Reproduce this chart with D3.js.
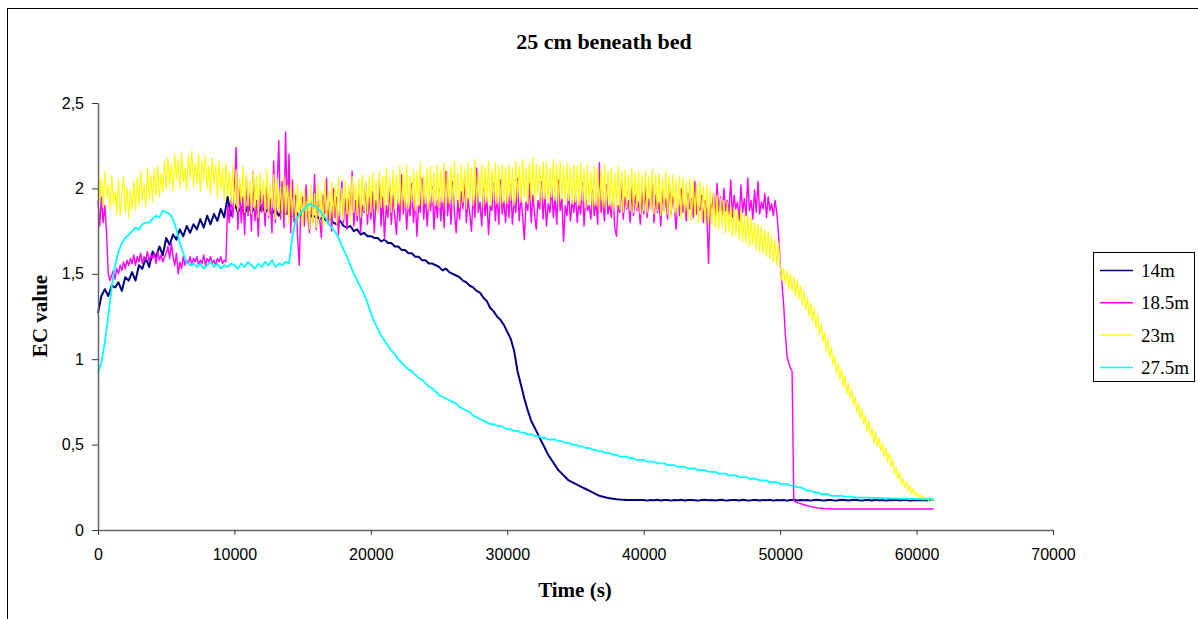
<!DOCTYPE html>
<html>
<head>
<meta charset="utf-8">
<script src="https://cdn.jsdelivr.net/npm/d3@7"></script>
<style>
  body { margin: 0; background: #fff; }
  svg { display: block; }
</style>
</head>
<body>
<script>
// sampling of the logger: the noisy probes are read every 125 s, the smooth ones every 250 s
const times250 = d3.range(0, 61251, 250);
const times125 = d3.range(0, 61251, 125);

const seriesNames = ["14m", "18.5m", "23m", "27.5m"];
const seriesColors = ["#000080", "#ff00ff", "#ffff00", "#00ffff"];

const xTicks = [0, 10000, 20000, 30000, 40000, 50000, 60000, 70000];
const yTicks = [0, 0.5, 1, 1.5, 2, 2.5];

// 14m, every 250 s
const ec14 = [
  1.27, 1.37, 1.41, 1.37, 1.43, 1.42, 1.45, 1.4, 1.48, 1.46, 1.51, 1.46, 1.55, 1.53, 1.59, 1.54, 1.63, 1.6, 1.66, 1.61,
  1.71, 1.67, 1.73, 1.7, 1.76, 1.72, 1.78, 1.74, 1.79, 1.76, 1.82, 1.77, 1.84, 1.79, 1.85, 1.81, 1.88, 1.83, 1.95, 1.84,
  1.91, 1.86, 1.89, 1.85, 1.9, 1.86, 1.89, 1.85, 1.9, 1.86, 1.88, 1.85, 1.88, 1.84, 1.87, 1.85, 1.87, 1.84, 1.86, 1.84,
  1.85, 1.84, 1.86, 1.83, 1.84, 1.82, 1.83, 1.81, 1.82, 1.8, 1.79, 1.81, 1.78, 1.77, 1.78, 1.75, 1.76, 1.73, 1.74, 1.72,
  1.72, 1.71, 1.71, 1.69, 1.7, 1.68, 1.68, 1.66, 1.66, 1.64, 1.64, 1.62, 1.62, 1.6, 1.6, 1.58, 1.58, 1.56, 1.56, 1.55,
  1.54, 1.52, 1.53, 1.51, 1.5, 1.49, 1.48, 1.46, 1.45, 1.43, 1.42, 1.4, 1.39, 1.36, 1.34, 1.3, 1.28, 1.25, 1.23, 1.2,
  1.16, 1.12, 1.05, 0.93, 0.85, 0.77, 0.7, 0.64, 0.6, 0.56, 0.52, 0.48, 0.44, 0.41, 0.38, 0.35, 0.33, 0.31, 0.29, 0.28,
  0.27, 0.26, 0.25, 0.24, 0.23, 0.22, 0.21, 0.2, 0.195, 0.19, 0.186, 0.183, 0.18, 0.178, 0.177, 0.176, 0.176, 0.175, 0.175, 0.175,
  0.175, 0.172, 0.176, 0.174, 0.177, 0.173, 0.175, 0.176, 0.172, 0.175, 0.174, 0.177, 0.173, 0.175, 0.176, 0.174, 0.172, 0.175, 0.177, 0.174,
  0.176, 0.173, 0.175, 0.177, 0.172, 0.174, 0.176, 0.175, 0.173, 0.177, 0.174, 0.172, 0.176, 0.175, 0.173, 0.176, 0.174, 0.177, 0.172, 0.175,
  0.174, 0.176, 0.172, 0.175, 0.177, 0.173, 0.175, 0.174, 0.176, 0.172, 0.175, 0.177, 0.174, 0.173, 0.176, 0.175, 0.172, 0.174, 0.177, 0.175,
  0.173, 0.175, 0.177, 0.174, 0.172, 0.176, 0.175, 0.173, 0.177, 0.174, 0.176, 0.172, 0.175, 0.174, 0.177, 0.173, 0.176, 0.175, 0.172, 0.174,
  0.176, 0.174, 0.175, 0.173, 0.176, 0.175
];

// 18.5m, every 125 s
const ec185 = [
  1.93, 1.78, 1.95, 1.8, 1.9, 1.74, 1.5, 1.46, 1.49, 1.52, 1.47, 1.53, 1.5, 1.55, 1.52, 1.57, 1.53, 1.58, 1.55, 1.59, 1.56, 1.61, 1.55, 1.6, 1.57, 1.62, 1.56, 1.6, 1.58, 1.63, 1.57, 1.61, 1.59, 1.62, 1.56, 1.63, 1.58, 1.61, 1.57, 1.6,
  1.62, 1.66, 1.59, 1.68, 1.6, 1.55, 1.62, 1.5, 1.57, 1.53, 1.6, 1.55, 1.58, 1.56, 1.6, 1.55, 1.59, 1.57, 1.6, 1.55, 1.58, 1.56, 1.61, 1.55, 1.59, 1.57, 1.6, 1.56, 1.58, 1.55, 1.59, 1.57, 1.6, 1.56, 1.58, 1.57, 1.9, 1.8, 1.95, 1.83,
  1.98, 2.24, 1.76, 2.02, 1.8, 1.95, 1.73, 2.06, 1.84, 1.97, 1.75, 2.1, 1.81, 1.93, 1.72, 2.0, 1.86, 1.96, 1.78, 2.05, 1.83, 1.94, 1.74, 2.16, 1.8, 1.98, 2.28, 1.82, 2.04, 1.77, 2.33, 1.85, 2.2, 1.74, 2.05, 1.8, 1.96, 1.72, 1.55, 1.9,
  1.95, 1.78, 2.02, 1.84, 1.74, 1.93, 1.8, 2.08, 1.76, 1.97, 1.82, 1.71, 1.96, 1.85, 2.06, 1.79, 1.92, 1.75, 2.0, 1.83, 1.95, 1.73, 1.89, 2.04, 1.8, 1.94, 1.76, 1.98, 1.84, 2.1, 1.78, 1.93, 1.81, 1.97, 1.74, 1.9, 1.86, 2.03, 1.79, 1.95,
  1.82, 1.98, 1.74, 1.93, 1.86, 2.05, 1.78, 1.95, 1.7, 1.9, 1.83, 2.02, 1.79, 1.96, 1.84, 1.73, 1.94, 1.81, 2.08, 1.85, 1.97, 1.76, 1.92, 1.84, 2.03, 1.8, 1.95, 1.72, 1.91, 1.86, 2.06, 1.82, 1.97, 1.78, 1.93, 1.87, 2.01, 1.76, 1.94, 1.83,
  2.0, 1.81, 1.95, 1.77, 2.1, 1.84, 1.96, 1.79, 2.04, 1.86, 1.74, 1.93, 1.82, 1.98, 1.88, 2.07, 1.8, 1.94, 1.85, 1.75, 1.97, 1.83, 2.12, 1.86, 1.92, 1.78, 2.0, 1.84, 1.95, 1.73, 1.9, 1.87, 2.03, 1.81, 1.96, 1.79, 2.05, 1.85, 1.93, 1.8,
  1.97, 1.83, 2.02, 1.79, 1.94, 1.86, 2.06, 1.81, 1.95, 1.84, 1.7, 1.92, 1.87, 2.03, 1.8, 1.96, 1.85, 1.76, 1.93, 1.88, 2.04, 1.82, 1.97, 1.78, 1.91, 1.86, 2.01, 1.83, 1.95, 1.79, 2.05, 1.87, 1.94, 1.69, 1.9, 1.84, 1.98, 1.81, 1.93, 1.86,
  1.96, 1.8, 1.92, 1.85, 2.03, 1.78, 1.95, 1.87, 1.9, 1.82, 1.99, 1.84, 1.93, 1.79, 2.15, 1.86, 1.94, 1.81, 2.02, 1.85, 1.91, 1.83, 1.97, 1.77, 1.72, 1.9, 1.86, 2.04, 1.82, 1.95, 1.88, 1.93, 1.8, 2.0, 1.84, 1.96, 1.87, 1.92, 1.79, 1.98,
  1.85, 2.01, 1.83, 1.94, 1.88, 2.05, 1.8, 1.96, 1.86, 1.92, 1.78, 1.99, 1.87, 1.94, 1.82, 2.03, 1.85, 1.95, 1.89, 1.76, 1.93, 1.84, 2.0, 1.86, 1.92, 1.81, 1.97, 1.88, 1.94, 1.83, 2.04, 1.85, 1.9, 1.87, 1.96, 1.8, 1.93, 1.86, 1.56, 1.92,
  1.88, 1.97, 1.84, 2.03, 1.86, 1.95, 1.82, 2.0, 1.87, 1.93, 1.85, 2.05, 1.83, 1.96, 1.88, 1.92, 1.81, 2.02, 1.86, 1.94, 1.84, 2.06, 1.87, 1.93, 1.82, 1.99, 1.86, 2.04, 1.85, 1.92, 1.88, 1.97, 1.83, 1.95, 1.87, 1.91, 1.84, 1.93, 1.86, 1.74,
  1.56, 1.45, 1.33, 1.15, 1.02, 0.98, 0.95, 0.93, 0.17, 0.165, 0.16, 0.157, 0.154, 0.151, 0.148, 0.145, 0.142, 0.14, 0.137, 0.135, 0.133, 0.131, 0.129, 0.128, 0.127, 0.126, 0.125, 0.125, 0.124, 0.124, 0.123, 0.123, 0.123, 0.123, 0.123, 0.123, 0.123, 0.123, 0.123, 0.123,
  0.123, 0.123, 0.123, 0.123, 0.123, 0.123, 0.123, 0.123, 0.123, 0.123, 0.123, 0.123, 0.123, 0.123, 0.123, 0.123, 0.123, 0.123, 0.123, 0.123, 0.123, 0.123, 0.123, 0.123, 0.123, 0.123, 0.123, 0.123, 0.123, 0.123, 0.123, 0.123, 0.123, 0.123, 0.123, 0.123, 0.123, 0.123, 0.123, 0.123,
  0.123, 0.123, 0.123, 0.123, 0.123, 0.123, 0.123, 0.123, 0.123, 0.123, 0.123
];

// 23m, every 125 s
const ec23 = [
  2.14, 1.92, 2.06, 1.89, 2.1, 1.95, 2.02, 1.88, 2.08, 1.91, 1.98, 1.85, 2.05, 1.84, 1.96, 2.07, 1.86, 2.01, 1.83, 1.99, 1.88, 2.04, 1.87, 2.06, 1.9, 2.1, 1.93, 2.03, 1.89, 2.12, 1.94, 2.08, 1.92, 2.11, 1.96, 2.13, 1.95, 2.09, 1.98, 2.16,
  2.0, 2.18, 2.02, 2.14, 1.98, 2.2, 2.05, 2.17, 2.0, 2.21, 2.04, 2.12, 1.99, 2.19, 2.06, 2.22, 2.01, 2.15, 2.03, 2.2, 1.98, 2.16, 2.05, 2.19, 2.0, 2.13, 1.97, 2.18, 2.02, 2.14, 1.95, 2.16, 1.99, 2.12, 1.93, 2.15, 1.96, 2.1, 1.91, 2.13,
  1.89, 2.11, 1.87, 2.06, 1.92, 2.13, 1.86, 2.08, 1.9, 2.04, 1.85, 2.1, 1.88, 2.07, 1.83, 2.09, 1.91, 2.05, 1.86, 2.11, 1.84, 2.03, 1.89, 2.08, 1.82, 2.06, 1.87, 2.01, 1.83, 2.07, 1.85, 2.02, 1.8, 2.04, 1.84, 1.99, 1.79, 2.03, 1.82, 1.98,
  1.78, 2.0, 1.8, 1.96, 1.76, 2.02, 1.79, 1.97, 1.77, 2.03, 1.82, 1.98, 1.78, 2.05, 1.81, 1.99, 1.8, 2.04, 1.83, 2.01, 1.79, 2.06, 1.84, 2.0, 1.82, 2.05, 1.85, 2.02, 1.81, 2.07, 1.86, 2.03, 1.84, 2.06, 1.83, 2.08, 1.87, 2.04, 1.85, 2.07,
  1.86, 2.09, 1.88, 2.05, 1.85, 2.1, 1.89, 2.07, 1.87, 2.12, 1.9, 2.06, 1.86, 2.11, 1.88, 2.08, 1.91, 2.13, 1.87, 2.09, 1.89, 2.14, 1.88, 2.07, 1.92, 2.11, 1.87, 2.1, 1.9, 2.15, 1.89, 2.08, 1.91, 2.12, 1.88, 2.13, 1.92, 2.09, 1.9, 2.14,
  1.89, 2.11, 1.92, 2.15, 1.88, 2.1, 1.91, 2.13, 1.9, 2.16, 1.93, 2.09, 1.89, 2.14, 1.92, 2.11, 1.88, 2.15, 1.93, 2.12, 1.9, 2.17, 1.91, 2.1, 1.94, 2.14, 1.89, 2.12, 1.92, 2.16, 1.9, 2.11, 1.93, 2.15, 1.91, 2.13, 1.89, 2.14, 1.92, 2.12,
  1.91, 2.14, 1.93, 2.12, 1.9, 2.16, 1.94, 2.13, 1.92, 2.17, 1.95, 2.12, 1.91, 2.15, 1.93, 2.18, 1.92, 2.14, 1.96, 2.13, 1.91, 2.16, 1.94, 2.15, 1.92, 2.12, 1.95, 2.17, 1.93, 2.14, 1.9, 2.16, 1.94, 2.13, 1.92, 2.15, 1.93, 2.12, 1.91, 2.14,
  1.92, 2.13, 1.9, 2.15, 1.93, 2.11, 1.89, 2.14, 1.91, 2.1, 1.88, 2.13, 1.9, 2.12, 1.87, 2.11, 1.89, 2.14, 1.88, 2.1, 1.9, 2.12, 1.87, 2.09, 1.89, 2.13, 1.88, 2.1, 1.86, 2.11, 1.89, 2.08, 1.87, 2.12, 1.86, 2.09, 1.88, 2.1, 1.85, 2.08,
  1.87, 2.1, 1.86, 2.07, 1.88, 2.11, 1.85, 2.08, 1.87, 2.09, 1.84, 2.06, 1.86, 2.1, 1.85, 2.07, 1.83, 2.08, 1.86, 2.05, 1.84, 2.07, 1.82, 2.06, 1.85, 2.04, 1.83, 2.06, 1.81, 2.05, 1.84, 2.03, 1.8, 2.04, 1.82, 2.01, 1.79, 2.02, 1.8, 1.99,
  1.78, 1.97, 1.77, 1.96, 1.76, 1.94, 1.78, 1.93, 1.74, 1.92, 1.75, 1.9, 1.72, 1.89, 1.73, 1.87, 1.7, 1.88, 1.69, 1.85, 1.68, 1.84, 1.66, 1.83, 1.67, 1.8, 1.64, 1.79, 1.63, 1.78, 1.62, 1.76, 1.6, 1.75, 1.59, 1.72, 1.57, 1.7, 1.55, 1.68,
  1.55, 1.46, 1.53, 1.44, 1.52, 1.41, 1.5, 1.4, 1.48, 1.37, 1.46, 1.35, 1.43, 1.32, 1.4, 1.29, 1.36, 1.25, 1.33, 1.22, 1.3, 1.18, 1.26, 1.14, 1.21, 1.1, 1.16, 1.05, 1.12, 1.01, 1.07, 0.97, 1.02, 0.92, 0.98, 0.88, 0.94, 0.84, 0.9, 0.8,
  0.86, 0.77, 0.82, 0.73, 0.78, 0.69, 0.74, 0.65, 0.71, 0.62, 0.67, 0.58, 0.64, 0.55, 0.6, 0.51, 0.57, 0.49, 0.54, 0.46, 0.51, 0.43, 0.48, 0.4, 0.45, 0.37, 0.41, 0.33, 0.37, 0.3, 0.34, 0.27, 0.3, 0.25, 0.28, 0.23, 0.26, 0.21, 0.24, 0.2,
  0.22, 0.19, 0.21, 0.18, 0.2, 0.18, 0.19, 0.17, 0.19, 0.17, 0.18
];

// 27.5m, every 250 s
const ec275 = [
  0.92, 0.98, 1.1, 1.25, 1.42, 1.55, 1.63, 1.68, 1.71, 1.73, 1.75, 1.77, 1.76, 1.79, 1.8, 1.8, 1.82, 1.84, 1.83, 1.87,
  1.86, 1.85, 1.82, 1.76, 1.68, 1.62, 1.57, 1.55, 1.56, 1.54, 1.56, 1.53, 1.55, 1.57, 1.54, 1.56, 1.53, 1.55, 1.54, 1.56,
  1.55, 1.53, 1.56, 1.54, 1.57, 1.55, 1.53, 1.56, 1.54, 1.57, 1.55, 1.58, 1.54, 1.56, 1.55, 1.57, 1.56, 1.72, 1.82, 1.84,
  1.87, 1.89, 1.91, 1.9, 1.89, 1.87, 1.84, 1.82, 1.78, 1.76, 1.73, 1.69, 1.64, 1.6, 1.55, 1.5, 1.46, 1.42, 1.38, 1.33,
  1.27, 1.22, 1.18, 1.14, 1.11, 1.08, 1.05, 1.03, 1.0, 0.98, 0.96, 0.94, 0.93, 0.91, 0.89, 0.88, 0.86, 0.84, 0.83, 0.81,
  0.79, 0.78, 0.77, 0.76, 0.75, 0.74, 0.72, 0.71, 0.7, 0.69, 0.67, 0.66, 0.65, 0.64, 0.63, 0.62, 0.62, 0.61, 0.61, 0.6,
  0.59, 0.59, 0.58, 0.58, 0.57, 0.57, 0.56, 0.56, 0.55, 0.55, 0.54, 0.54, 0.53, 0.53, 0.53, 0.52, 0.52, 0.51, 0.51, 0.5,
  0.5, 0.49, 0.49, 0.48, 0.48, 0.47, 0.47, 0.46, 0.46, 0.45, 0.45, 0.44, 0.44, 0.43, 0.43, 0.43, 0.42, 0.42, 0.41, 0.41,
  0.41, 0.4, 0.4, 0.4, 0.39, 0.39, 0.39, 0.38, 0.38, 0.38, 0.37, 0.37, 0.37, 0.36, 0.36, 0.36, 0.35, 0.35, 0.35, 0.34,
  0.34, 0.34, 0.33, 0.33, 0.33, 0.32, 0.32, 0.32, 0.31, 0.31, 0.31, 0.3, 0.3, 0.3, 0.29, 0.29, 0.29, 0.28, 0.28, 0.28,
  0.27, 0.27, 0.27, 0.26, 0.26, 0.25, 0.25, 0.24, 0.23, 0.23, 0.22, 0.22, 0.21, 0.21, 0.21, 0.2, 0.2, 0.2, 0.2, 0.195,
  0.195, 0.195, 0.19, 0.19, 0.19, 0.19, 0.19, 0.188, 0.188, 0.186, 0.186, 0.185, 0.185, 0.185, 0.184, 0.184, 0.183, 0.183, 0.182, 0.182,
  0.181, 0.181, 0.18, 0.18, 0.18, 0.18
];

const allSeries = [
  { vals: ec14, t: times250, w: 2 },
  { vals: ec185, t: times125, w: 1.4 },
  { vals: ec23, t: times125, w: 1.2 },
  { vals: ec275, t: times250, w: 1.8 }
];

function render() {
  const W = 1198, H = 619;
  const left = 98, right = 1053, top = 103, bottom = 530;

  const svg = d3.select("body").append("svg")
    .attr("width", W)
    .attr("height", H);

  svg.append("rect")
    .attr("width", W).attr("height", H)
    .attr("fill", "#fff");

  // chart frame (cut off on the right and bottom in the original)
  svg.append("rect")
    .attr("x", 7.5).attr("y", 8.5)
    .attr("width", W + 10).attr("height", H + 10)
    .attr("fill", "none")
    .attr("stroke", "#000")
    .attr("stroke-width", 1);

  const xScale = d3.scaleLinear().domain([0, 70000]).range([left, right]);
  const yScale = d3.scaleLinear().domain([0, 2.5]).range([bottom, top]);

  allSeries.forEach((s, k) => {
    const line = d3.line()
      .x((d, i) => xScale(s.t[i]))
      .y(d => yScale(d));

    svg.append("path")
      .datum(s.vals)
      .attr("fill", "none")
      .attr("stroke", seriesColors[k])
      .attr("stroke-width", s.w)
      .attr("stroke-linejoin", "round")
      .attr("d", line);
  });

  const xAxis = d3.axisBottom(xScale)
    .tickValues(xTicks)
    .tickSize(5)
    .tickSizeOuter(0)
    .tickPadding(14)
    .tickFormat(d => String(d));

  const yAxis = d3.axisLeft(yScale)
    .tickValues(yTicks)
    .tickSize(6)
    .tickSizeOuter(0)
    .tickPadding(8)
    .tickFormat(d => String(d).replace(".", ","));

  const gx = svg.append("g")
    .attr("id", "x-axis")
    .attr("transform", "translate(0," + bottom + ")")
    .call(xAxis);

  const gy = svg.append("g")
    .attr("id", "y-axis")
    .attr("transform", "translate(" + left + ",0)")
    .call(yAxis);

  [gx, gy].forEach(g => {
    g.select(".domain").attr("stroke", "#666").attr("stroke-width", 1.5);
    g.selectAll(".tick line").attr("stroke", "#333").attr("stroke-width", 1);
    g.selectAll(".tick text")
      .attr("fill", "#000")
      .style("font-family", "'Liberation Sans', Arial, sans-serif")
      .style("font-size", "16px");
  });

  // title and axis titles
  svg.append("text")
    .attr("x", 604).attr("y", 49)
    .attr("text-anchor", "middle")
    .style("font-family", "'Liberation Serif', 'Times New Roman', serif")
    .style("font-weight", "bold")
    .style("font-size", "22px")
    .text("25 cm beneath bed");

  svg.append("text")
    .attr("transform", "translate(47,316) rotate(-90)")
    .attr("text-anchor", "middle")
    .style("font-family", "'Liberation Serif', 'Times New Roman', serif")
    .style("font-weight", "bold")
    .style("font-size", "21px")
    .text("EC value");

  svg.append("text")
    .attr("x", 575).attr("y", 597)
    .attr("text-anchor", "middle")
    .style("font-family", "'Liberation Serif', 'Times New Roman', serif")
    .style("font-weight", "bold")
    .style("font-size", "21px")
    .text("Time (s)");

  // legend
  const legend = svg.append("g").attr("id", "legend");
  legend.append("rect")
    .attr("x", 1093.5).attr("y", 252.5)
    .attr("width", 101).attr("height", 129)
    .attr("fill", "#fff")
    .attr("stroke", "#000");

  const rows = legend.selectAll("g.item")
    .data(seriesNames)
    .enter().append("g")
    .attr("class", "item")
    .attr("transform", (d, i) => "translate(0," + (270.5 + i * 32.3) + ")");

  rows.append("line")
    .attr("x1", 1100).attr("x2", 1133)
    .attr("stroke", (d, i) => seriesColors[i])
    .attr("stroke-width", 1.5);

  rows.append("text")
    .attr("x", 1141).attr("y", 6.5)
    .style("font-family", "'Liberation Serif', 'Times New Roman', serif")
    .style("font-size", "19px")
    .text(d => d);
}

render();
</script>
</body>
</html>
